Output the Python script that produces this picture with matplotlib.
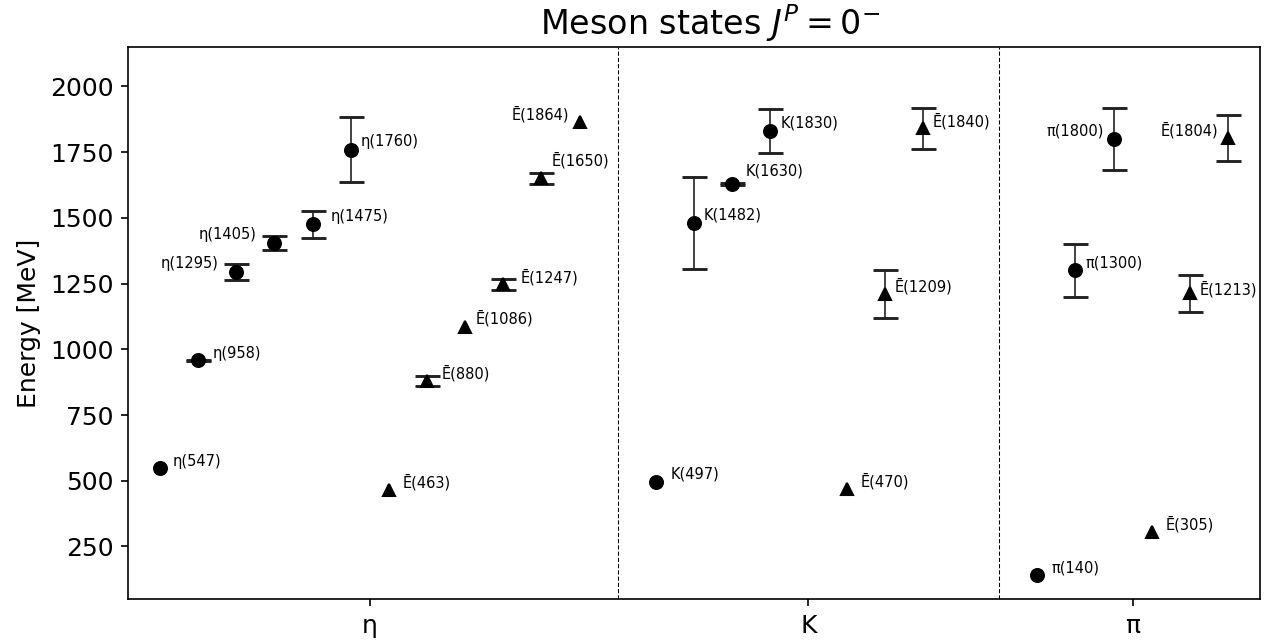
import matplotlib
matplotlib.use("Agg")
import matplotlib.pyplot as plt

# ---------------- data ----------------
sections = ["η", "K", "π"]

eta_mass = [547, 958, 1295, 1405, 1475, 1760]
eta_err = [None, 1, 30, 26, 50, 125]
eta_pred = [463, 880, 1086, 1247, 1650, 1864]
eta_pred_err = [None, 18, None, 20, 22, None]

kaon_mass = [497, 1482, 1630, 1830]
kaon_err = [None, 175, 4, 85]
kaon_pred = [470, 1209, 1840]
kaon_pred_err = [None, 91, 78]

pion_mass = [140, 1300, 1800]
pion_err = [None, 100, 119]
pion_pred = [305, 1213, 1804]
pion_pred_err = [None, 70, 86]

y_ticks = [250, 500, 750, 1000, 1250, 1500, 1750, 2000]

# ---------------- layout ----------------
DPI = 150
section_start = [0, 13, 23]
section_gap = [0, 1, 0]
boundaries = [-1, 12, 22, 29]

# label offsets in pixels (dx, dy up), alignment
meson_offsets = [
    [(13, 7, "left"), (14.6, 7, "left"), (-17.7, 8, "right"), (-17.6, 8, "right"),
     (17.6, 7.6, "left"), (10, 8, "left")],
    [(14.3, 7.3, "left"), (9.7, 7.7, "left"), (13.7, 13, "left"), (10, 8, "left")],
    [(14.7, 7.3, "left"), (9.7, 7.3, "left"), (-9.7, 7.7, "right")],
]
pred_offsets = [
    [(14, 8, "left"), (14.7, 7.7, "left"), (10.4, 8.7, "left"), (17.3, 7.6, "left"),
     (10.3, 18.6, "left"), (-10.7, 7.7, "right")],
    [(14.3, 7.3, "left"), (10, 7.7, "left"), (10, 7.3, "left")],
    [(14.3, 8, "left"), (10, 4, "left"), (-9.7, 7.7, "right")],
]

masses = [eta_mass, kaon_mass, pion_mass]
mass_errs = [eta_err, kaon_err, pion_err]
preds = [eta_pred, kaon_pred, pion_pred]
pred_errs = [eta_pred_err, kaon_pred_err, pion_pred_err]

fig = plt.figure(figsize=(1274 / DPI, 643 / DPI), dpi=DPI)
ax = fig.add_axes([128 / 1274, 1 - 599 / 643, (1260 - 128) / 1274, (599 - 47) / 643])

MS = 6.2


def draw(x, v, err, marker, label, off):
    if err is None:
        ax.plot([x], [v], marker, color="k", ms=MS)
    else:
        ax.errorbar([x], [v], yerr=[err], fmt=marker, color="k", ms=MS,
                    capsize=6, capthick=1.4, elinewidth=0.8, ecolor="#222222")
    dx, dy, ha = off
    ax.annotate(label, (x, v), xytext=(dx * 72 / DPI, dy * 72 / DPI),
                textcoords="offset points", ha=ha, va="center", fontsize=7)


for s, sym in enumerate(sections):
    start = section_start[s]
    for i, (v, e) in enumerate(zip(masses[s], mass_errs[s])):
        draw(start + i, v, e, "o", f"{sym}({v})", meson_offsets[s][i])
    pstart = start + len(masses[s]) + section_gap[s]
    for j, (v, e) in enumerate(zip(preds[s], pred_errs[s])):
        draw(pstart + j, v, e, "^", f"Ē({v})", pred_offsets[s][j])

for b in boundaries[1:-1]:
    ax.axvline(b, color="k", ls=(0, (4, 2)), lw=0.5)

ax.set_xlim(-0.84, 28.84)
ax.set_ylim(50, 2150)
ax.set_yticks(y_ticks)
centers = [(boundaries[k] + boundaries[k + 1]) / 2 for k in range(3)]
ax.set_xticks(centers)
ax.set_xticklabels(sections)
ax.tick_params(labelsize=12)
ax.set_ylabel("Energy [MeV]", fontsize=12)
ax.set_title("Meson states $J^P = 0^{-}$", fontsize=16, x=0.514)

fig.savefig("out.png", dpi=DPI)
